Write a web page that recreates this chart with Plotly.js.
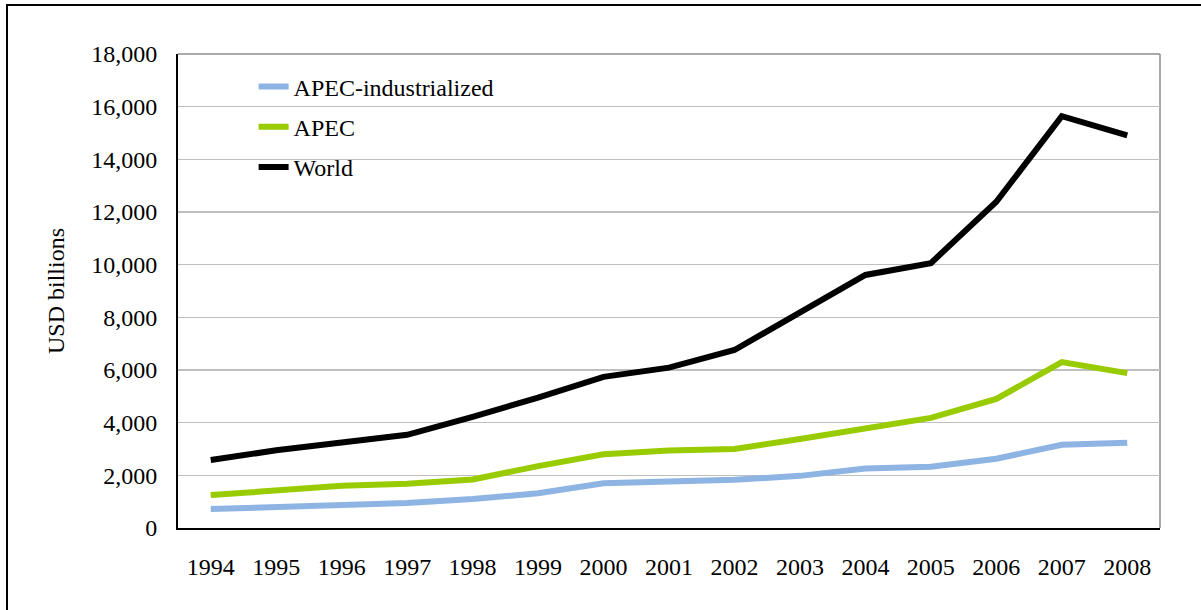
<!DOCTYPE html>
<html>
<head>
<meta charset="utf-8">
<script src="https://cdn.plot.ly/plotly-3.0.1.min.js"></script>
<style>
  html, body { margin: 0; padding: 0; overflow: hidden; background: #fff; }
  #frame { position: absolute; left: 6px; top: 4px; width: 1400px; height: 800px;
           border-top: 2px solid #000; border-left: 2px solid #000; pointer-events: none; z-index: 5; }
  #chart { position: absolute; left: 0; top: 0; width: 1201px; height: 610px; }
</style>
</head>
<body>
<div id="chart"></div>
<div id="frame"></div>
<script>
const years = ['1994','1995','1996','1997','1998','1999','2000','2001','2002','2003','2004','2005','2006','2007','2008'];
const apecIndustrialized = [720, 800, 880, 950, 1100, 1320, 1700, 1760, 1830, 1980, 2260, 2330, 2630, 3160, 3240];
const apec = [1250, 1400, 1600, 1680, 1840, 2350, 2800, 2940, 3000, 3380, 3800, 4180, 4900, 6300, 5880];
const world = [2580, 2950, 3250, 3540, 4220, 4950, 5740, 6090, 6760, 8160, 9610, 10060, 12390, 15640, 14910];
const yTicks = [0, 2000, 4000, 6000, 8000, 10000, 12000, 14000, 16000, 18000];

const font = 'Liberation Serif';

const traces = [
  { x: years, y: apecIndustrialized, name: 'APEC-industrialized', type: 'scatter', mode: 'lines',
    line: { color: '#8DB4E2', width: 6 }, legendgroup: 'a' },
  { x: years, y: apec, name: 'APEC', type: 'scatter', mode: 'lines',
    line: { color: '#99CC00', width: 6 }, legendgroup: 'b' },
  { x: years, y: world, name: 'World', type: 'scatter', mode: 'lines',
    line: { color: '#000000', width: 6 }, legendgroup: 'c' }
];

const layout = {
  width: 1201, height: 610,
  margin: { l: 178, r: 41, t: 54, b: 82 },
  paper_bgcolor: '#fff', plot_bgcolor: '#fff',
  font: { family: font, size: 24, color: '#000' },
  showlegend: true,
  legend: {
    x: 0.077, y: 0.978, xanchor: 'left', yanchor: 'top',
    bgcolor: 'rgba(0,0,0,0)', borderwidth: 0,
    font: { family: font, size: 24, color: '#000' },
    traceorder: 'grouped', tracegroupgap: 6
  },
  xaxis: {
    type: 'category', categoryorder: 'array', categoryarray: years,
    range: [-0.5, 14.5], showgrid: false, zeroline: false,
    showline: true, linecolor: '#000', linewidth: 2,
    ticks: '', ticklabelstandoff: 16,
    tickfont: { family: font, size: 24, color: '#000' }, fixedrange: true
  },
  yaxis: {
    range: [0, 18000], tickvals: yTicks, tickformat: ',',
    showgrid: true, gridcolor: '#BFBFBF', gridwidth: 1.5, zeroline: false,
    showline: true, linecolor: '#000', linewidth: 2,
    ticks: '', ticklabelstandoff: 14,
    tickfont: { family: font, size: 24, color: '#000' },
    title: { text: 'USD billions', font: { family: font, size: 24, color: '#000' }, standoff: 20 },
    automargin: false, fixedrange: true
  },
  shapes: [
    { type: 'line', xref: 'paper', yref: 'paper', x0: 0, x1: 1, y0: 1, y1: 1, line: { color: '#8C8C8C', width: 1.5 }, layer: 'below' },
    { type: 'line', xref: 'paper', yref: 'paper', x0: 1, x1: 1, y0: 0, y1: 1, line: { color: '#8C8C8C', width: 1.5 }, layer: 'below' }
  ]
};

Plotly.newPlot('chart', traces, layout, { staticPlot: true, displayModeBar: false });
</script>
</body>
</html>
